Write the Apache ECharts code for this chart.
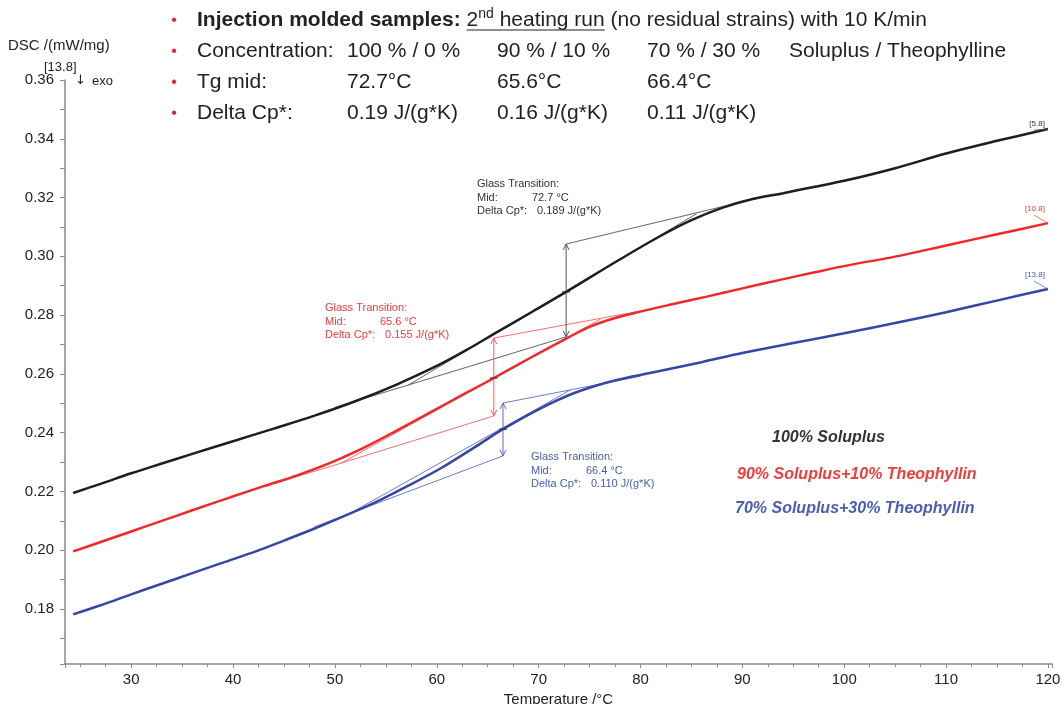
<!DOCTYPE html>
<html><head><meta charset="utf-8">
<script src="https://cdn.jsdelivr.net/npm/echarts@6/dist/echarts.min.js"></script>
<style>html,body{margin:0;padding:0;background:#fff}#c{width:1062px;height:704px}</style>
</head><body><div id="c"></div>
<script>
// ---------------- DATA ----------------
const soluplus100 = [[24.3,0.2195],[27,0.2226],[30,0.2262],[33,0.2295],[36,0.2328],[40,0.2371],[44,0.2414],[48,0.2458],[52,0.2507],[56,0.2563],[60,0.2627],[63,0.2683],[66,0.2744],[69.5,0.2814],[72.7,0.2879],[78,0.2990],[82,0.3070],[85,0.3123],[88,0.3165],[91,0.3195],[94,0.3215],[97,0.3236],[100,0.3257],[105,0.3300],[110,0.3350],[115,0.3393],[120,0.3433]];
const soluplus90 = [[24.3,0.1996],[27,0.2028],[30,0.2064],[33,0.2100],[36,0.2136],[39.8,0.2181],[43,0.2218],[46.3,0.2255],[49.6,0.2298],[52.9,0.2350],[56.1,0.2408],[59.4,0.2470],[62.7,0.2532],[65.6,0.2586],[69.2,0.2655],[72.8,0.2722],[75,0.2760],[77.5,0.2790],[80,0.2812],[83,0.2836],[86.5,0.2863],[90,0.2891],[93.7,0.2920],[97,0.2945],[100.6,0.2971],[105,0.2999],[110,0.3037],[115,0.3075],[120,0.3113]];
const soluplus70 = [[24.3,0.1782],[27,0.1813],[30,0.1850],[33,0.1886],[36,0.1922],[39,0.1958],[42.3,0.1997],[45,0.2033],[48,0.2074],[50.6,0.2112],[53.9,0.2162],[57.1,0.2218],[60.4,0.2279],[63.7,0.2350],[66.5,0.2412],[70.2,0.2483],[73.5,0.2535],[76.7,0.2571],[79.3,0.2592],[82,0.2611],[86,0.2640],[90,0.2671],[95,0.2705],[100,0.2738],[105,0.2773],[110,0.2810],[115.3,0.2852],[120,0.2889]];
const seriesNames = ['100% Soluplus','90% Soluplus+10% Theophyllin','70% Soluplus+30% Theophyllin'];
const endLabels = ['[5.8]','[10.8]','[13.8]'];

// glass transition evaluation (tangent construction)
const gtLower   = [[[50,0.2486],[72.7,0.2726]], [[44,0.2226],[65.6,0.2457]], [[48,0.2080],[66.5,0.2321]]];
const gtTangent = [[[57.2,0.2562],[85.5,0.3145]], [[50.6,0.2296],[76.1,0.2787]], [[51.5,0.2126],[73.1,0.2545]]];
const gtUpper   = [[[72.7,0.3042],[92,0.3202]], [[65.6,0.2722],[82,0.2827]], [[66.5,0.2501],[80,0.2592]]];
// [T, lower, upper, midpoint on curve]
const gtArrow   = [[72.7,0.2726,0.3042,0.2879],[65.6,0.2457,0.2722,0.2586],[66.5,0.2321,0.2501,0.2412]];
const gtMid = ['72.7 °C','65.6 °C','66.4 °C'];
const gtDcp = ['0.189 J/(g*K)','0.155 J/(g*K)','0.110 J/(g*K)'];

// header table
const headTitleBold = 'Injection molded samples:';
const headTitleRest = ' (no residual strains) with 10 K/min';
const headConc = ['100 % / 0 %','90 % / 10 %','70 % / 30 %'];
const headTg = ['72.7°C','65.6°C','66.4°C'];
const headDcp = ['0.19 J/(g*K)','0.16 J/(g*K)','0.11 J/(g*K)'];

// ---------------- STYLE / LAYOUT ----------------
const F = '"Liberation Sans", Arial, Helvetica, sans-serif';
const HF = 21;
const curveColors = ['#1e1e1e','#f0282a','#3547a5'];
const thinColors = ['#555555','#f46060','#5b6cc4'];
const textColors = ['#333333','#f03c3c','#4a5cb5'];
const curves = [soluplus100, soluplus90, soluplus70];

const ctx = document.createElement('canvas').getContext('2d');
function tw(t, font){ ctx.font = font; return ctx.measureText(t).width; }

const g = [];
function txt(x, y, text, o){
  g.push({type:'text', x:x, y:y, z:10, silent:true,
    style:Object.assign({text:text, fontFamily:F, fontSize:HF, fill:'#222', align:'left', verticalAlign:'middle'}, o||{})});
}
// header
const rows = [20,51,82,113];
rows.forEach(y => txt(174, y+1, '•', {fill:'#e8242a', fontSize:16, align:'center'}));
const x0 = 197;
txt(x0, rows[0], headTitleBold, {fontWeight:'bold'});
let xx = x0 + tw(headTitleBold + ' ', 'bold ' + HF + 'px ' + F);
const uStart = xx;
txt(xx, rows[0], '2'); xx += tw('2', HF + 'px ' + F);
txt(xx, rows[0]-6, 'nd', {fontSize:14}); xx += tw('nd', '14px ' + F);
txt(xx, rows[0], ' heating run'); xx += tw(' heating run', HF + 'px ' + F);
const uEnd = xx;
g.push({type:'line', z:10, silent:true, shape:{x1:uStart, y1:rows[0]+10, x2:uEnd, y2:rows[0]+10}, style:{stroke:'#222', lineWidth:1.2}});
txt(xx, rows[0], headTitleRest);
const cols = [347,497,647];
txt(x0, rows[1], 'Concentration:');
txt(x0, rows[2], 'Tg mid:');
txt(x0, rows[3], 'Delta Cp*:');
headConc.forEach((t,i)=>txt(cols[i], rows[1], t));
headTg.forEach((t,i)=>txt(cols[i], rows[2], t));
headDcp.forEach((t,i)=>txt(cols[i], rows[3], t));
txt(789, rows[1], 'Soluplus / Theophylline');

// y axis name etc.
txt(8, 46, 'DSC /(mW/mg)', {fontSize:15});
txt(44, 67, '[13.8]', {fontSize:13});
txt(75, 81, '↓', {fontSize:13, fontFamily:'"DejaVu Sans", sans-serif'});
txt(92, 81, 'exo', {fontSize:13});

// glass transition annotation texts
const gtPos = [[477,184],[325,308],[531,457]];
gtPos.forEach((p,i)=>{
  const o = {fontSize:11, fill:textColors[i]};
  txt(p[0], p[1], 'Glass Transition:', o);
  txt(p[0], p[1]+13.5, 'Mid:', o);
  txt(p[0], p[1]+27, 'Delta Cp*:', o);
  txt(p[0]+55, p[1]+13.5, gtMid[i], o);
  txt(p[0]+60, p[1]+27, gtDcp[i], o);
});

// series names
const legPos = [[772,438],[737,475],[735,509]];
legPos.forEach((p,i)=>txt(p[0], p[1], seriesNames[i], {fontSize:16, fontWeight:'bold', fontStyle:'italic', fill:textColors[i]}));

// ---------------- SERIES ----------------
const series = [];
const consData = [];
[gtLower, gtTangent, gtUpper].forEach(set => set.forEach((c,i)=>consData.push({coords:c, lineStyle:{color:thinColors[i]}})));
series.push({type:'lines', coordinateSystem:'cartesian2d', polyline:true, z:2, silent:true,
  lineStyle:{width:0.9, opacity:1}, data:consData});

curves.forEach((d,i)=>series.push({type:'line', name:seriesNames[i], data:d, showSymbol:false, smooth:0.35,
  z:3, silent:true, lineStyle:{color:curveColors[i], width:2.5}}));

series.push({type:'custom', z:4, silent:true, data:gtArrow, renderItem:(params, api)=>{
  const i = params.dataIndex, c = thinColors[i];
  const T = api.value(0);
  const lo = api.coord([T, api.value(1)]), hi = api.coord([T, api.value(2)]), m = api.coord([T, api.value(3)]);
  const w = 3, h = 6;
  return {type:'group', children:[
    {type:'line', shape:{x1:lo[0],y1:lo[1],x2:hi[0],y2:hi[1]}, style:{stroke:c, lineWidth:1}},
    {type:'polyline', shape:{points:[[hi[0]-w,hi[1]+h],[hi[0],hi[1]],[hi[0]+w,hi[1]+h]]}, style:{stroke:c, fill:null, lineWidth:1}},
    {type:'polyline', shape:{points:[[lo[0]-w,lo[1]-h],[lo[0],lo[1]],[lo[0]+w,lo[1]-h]]}, style:{stroke:c, fill:null, lineWidth:1}},
    {type:'line', shape:{x1:m[0]-4,y1:m[1],x2:m[0]+4,y2:m[1]}, style:{stroke:'#222', lineWidth:1}}
  ]};
}});

curves.forEach((d,i)=>series.push({type:'custom', z:5, silent:true, data:[d[d.length-1]], renderItem:(params, api)=>{
  const p = api.coord([api.value(0), api.value(1)]);
  const dy = [1,10,10][i];
  return {type:'group', children:[
    {type:'line', shape:{x1:p[0],y1:p[1],x2:p[0]-14,y2:p[1]-dy+2}, style:{stroke:thinColors[i], lineWidth:0.8}},
    {type:'text', x:p[0]-3, y:p[1]-dy, style:{text:endLabels[i], align:'right', verticalAlign:'bottom', fontSize:8, fill:textColors[i], fontFamily:F}}
  ]};
}}));

const axisCol = '#8a8a8a';
const chart = echarts.init(document.getElementById('c'), null, {renderer:'canvas'});
chart.setOption({
  animation:false,
  backgroundColor:'#fff',
  grid:{left:65, right:10, top:80, bottom:40, containLabel:false, outerBoundsMode:'none'},
  xAxis:{type:'value', min:23.5, max:120.4, splitNumber:10,
    axisLine:{lineStyle:{color:axisCol, width:1.5}},
    axisTick:{length:4, lineStyle:{color:axisCol}},
    minorTick:{show:true, splitNumber:4, length:3, lineStyle:{color:axisCol}},
    splitLine:{show:false},
    axisLabel:{showMinLabel:false, showMaxLabel:false, color:'#222', fontSize:15, fontFamily:F, margin:8},
    name:'Temperature /°C', nameLocation:'middle', nameGap:20,
    nameTextStyle:{color:'#222', fontSize:15, fontFamily:F}},
  yAxis:{type:'value', min:0.1613, max:0.36, splitNumber:10,
    axisLine:{show:true, lineStyle:{color:axisCol, width:1.5}},
    axisTick:{show:true, length:5, lineStyle:{color:axisCol}},
    minorTick:{show:true, splitNumber:2, length:5, lineStyle:{color:axisCol}},
    splitLine:{show:false},
    axisLabel:{showMinLabel:false, color:'#222', fontSize:15, fontFamily:F, margin:11, formatter:v=>v.toFixed(2)}},
  graphic:g,
  series:series
});
</script></body></html>
